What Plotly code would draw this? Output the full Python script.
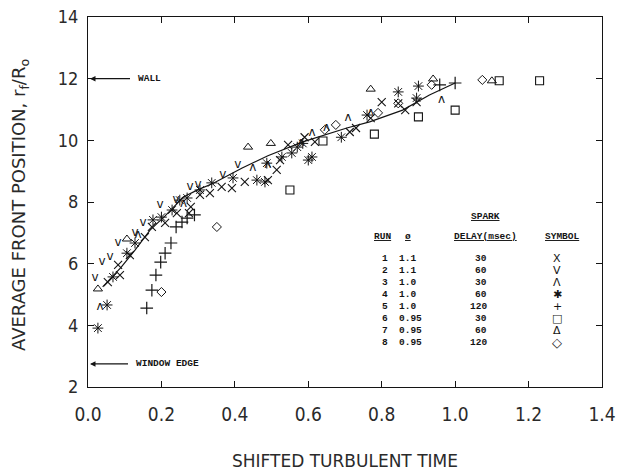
import plotly.graph_objects as go

# ---------------- data ----------------
run1_x = [0.054, 0.082, 0.087, 0.114, 0.155, 0.174, 0.210, 0.242, 0.275, 0.280, 0.305, 0.332, 0.364, 0.392,
          0.427, 0.490, 0.514, 0.523, 0.545, 0.590, 0.618, 0.713, 0.730, 0.770, 0.800, 0.845, 0.864, 0.895]
run1_y = [5.40, 5.96, 5.63, 6.28, 6.86, 7.19, 7.32, 7.64, 7.64, 7.84, 8.23, 8.29, 8.49, 8.45,
          8.65, 8.71, 9.04, 9.36, 9.85, 10.10, 9.95, 10.27, 10.40, 10.72, 11.24, 11.20, 10.98, 11.24]

run2_x = [0.019, 0.038, 0.060, 0.082, 0.128, 0.150, 0.196, 0.240, 0.278, 0.300, 0.367, 0.408]
run2_y = [5.53, 6.05, 6.22, 6.67, 7.00, 7.32, 7.90, 8.05, 8.49, 8.55, 8.87, 9.20]

run3_x = [0.033, 0.136, 0.260, 0.449, 0.490, 0.580, 0.610, 0.650, 0.708, 0.770, 0.963]
run3_y = [4.60, 6.93, 7.95, 9.10, 9.20, 9.90, 10.24, 10.40, 10.72, 10.90, 11.30]

run4_x = [0.027, 0.052, 0.068, 0.106, 0.128, 0.177, 0.200, 0.229, 0.250, 0.270, 0.305, 0.337, 0.395, 0.460,
          0.482, 0.487, 0.528, 0.555, 0.570, 0.585, 0.600, 0.610, 0.690, 0.760, 0.845, 0.895, 0.900]
run4_y = [3.91, 4.66, 5.57, 6.34, 6.67, 7.42, 7.51, 7.74, 8.06, 8.13, 8.39, 8.62, 8.78, 8.71,
          8.65, 9.26, 9.46, 9.59, 9.78, 9.90, 9.36, 9.46, 10.10, 10.82, 11.57, 11.37, 11.76]

run5_x = [0.160, 0.174, 0.185, 0.198, 0.210, 0.226, 0.240, 0.256, 0.270, 0.290, 0.958, 1.000]
run5_y = [4.56, 5.14, 5.63, 6.05, 6.34, 6.67, 7.19, 7.35, 7.48, 7.58, 11.80, 11.86]

run6_x = [0.550, 0.640, 0.780, 0.900, 1.000, 1.120, 1.230]
run6_y = [8.39, 9.98, 10.20, 10.76, 10.98, 11.93, 11.93]

run7_x = [0.027, 0.106, 0.436, 0.498, 0.770, 0.940, 1.100]
run7_y = [5.18, 6.80, 9.78, 9.90, 11.66, 11.99, 11.93]

run8_x = [0.200, 0.351, 0.645, 0.675, 0.790, 0.845, 0.936, 1.074]
run8_y = [5.08, 7.19, 10.34, 10.50, 10.89, 11.20, 11.80, 11.96]

curve_x = [0.040, 0.090, 0.128, 0.169, 0.210, 0.260, 0.300, 0.340, 0.420, 0.490, 0.585, 0.705, 0.767, 0.857, 0.930, 1.000]
curve_y = [5.25, 5.88, 6.44, 7.09, 7.55, 8.16, 8.40, 8.60, 9.10, 9.50, 9.95, 10.40, 10.60, 10.98, 11.47, 11.86]

xtick_vals = [0.0, 0.2, 0.4, 0.6, 0.8, 1.0, 1.2, 1.4]
xtick_text = ["0.0", "0.2", "0.4", "0.6", "0.8", "1.0", "1.2", "1.4"]
ytick_vals = [2, 4, 6, 8, 10, 12, 14]
ytick_text = ["2", "4", "6", "8", "10", "12", "14"]

legend_runs = ["1", "2", "3", "4", "5", "6", "7", "8"]
legend_phi = ["1.1", "1.1", "1.0", "1.0", "1.0", "0.95", "0.95", "0.95"]
legend_delay = ["30", "60", "30", "60", "120", "30", "60", "120"]
legend_symbols = ["X", "V", "Λ", "✱", "+", "□", "Δ", "◇"]

WALL_Y = 12.0
WINDOW_EDGE_Y = 2.75

# ---------------- figure ----------------
INK = "#141414"
W, H = 617, 470
L, R, T, B = 88, 15, 17, 83
PW, PH = W - L - R, H - T - B


def px_x(p):
    return (p - L) / PW


def px_y(p):
    return (H - B - p) / PH


fig = go.Figure()

fig.add_trace(go.Scatter(x=curve_x, y=curve_y, mode="lines",
                         line=dict(color=INK, width=1.2), hoverinfo="skip"))


def marker_trace(xs, ys, symbol, size, lw=1.0):
    return go.Scatter(x=xs, y=ys, mode="markers",
                      marker=dict(symbol=symbol, size=size, color=INK,
                                  line=dict(color=INK, width=lw)))


def text_trace(xs, ys, ch, size):
    return go.Scatter(x=xs, y=ys, mode="text", text=[ch] * len(xs),
                      textposition="middle center",
                      textfont=dict(family="DejaVu Sans", size=size, color=INK))


fig.add_trace(marker_trace(run1_x, run1_y, "x-thin-open", 8, 1.1))
fig.add_trace(text_trace(run2_x, run2_y, "v", 12))
fig.add_trace(text_trace(run3_x, run3_y, "ʌ", 12))
fig.add_trace(marker_trace(run4_x, run4_y, "asterisk-open", 9, 1.0))
fig.add_trace(marker_trace(run5_x, run5_y, "cross-thin-open", 9, 1.2))
fig.add_trace(marker_trace(run6_x, run6_y, "square-open", 8, 1.1))
fig.add_trace(marker_trace(run7_x, run7_y, "triangle-up-open", 8, 1.0))
fig.add_trace(marker_trace(run8_x, run8_y, "diamond-open", 7, 1.0))

axis_common = dict(showline=True, linecolor=INK, linewidth=1.2, mirror="ticks",
                   ticks="inside", ticklen=6, tickwidth=1, tickcolor=INK,
                   showgrid=False, zeroline=False)

tick_family = "DejaVu Sans Condensed, DejaVu Sans"
fig.update_xaxes(range=[0, 1.4], tickmode="array", tickvals=xtick_vals, ticktext=xtick_text,
                 tickfont=dict(family=tick_family, size=19, color="#2a2a2a"),
                 ticklabelstandoff=10, **axis_common)
fig.update_yaxes(range=[2, 14], tickmode="array", tickvals=ytick_vals, ticktext=ytick_text,
                 tickfont=dict(family=tick_family, size=18, color="#2a2a2a"),
                 ticklabelstandoff=5, **axis_common)

ann = []
title_font = dict(family="DejaVu Sans", size=17, color="#2a2a2a")
ann.append(dict(text="SHIFTED TURBULENT TIME", xref="paper", yref="paper",
                x=px_x(345), y=px_y(461), xanchor="center", yanchor="middle",
                showarrow=False, font=title_font))
ann.append(dict(text="AVERAGE FRONT POSITION, r<sub>f</sub>/R<sub>o</sub>", xref="paper", yref="paper",
                x=px_x(20), y=px_y(205), xanchor="center", yanchor="middle", textangle=-90,
                showarrow=False, font=dict(family="DejaVu Sans", size=18, color="#2a2a2a")))

small = dict(family="Liberation Mono", size=9.5, color=INK, weight="bold")

# reference arrows with their labels
for yv, label, ax in [(WALL_Y, "WALL", 61), (WINDOW_EDGE_Y, "WINDOW EDGE", 79)]:
    ann.append(dict(x=0.0, y=yv, xref="x", yref="y", ax=ax, ay=0,
                    text=label, showarrow=True, arrowhead=2, arrowsize=1, arrowwidth=1.1,
                    arrowcolor=INK, standoff=2, borderpad=7, font=small))

# legend table
ann.append(dict(text="<u>SPARK</u>", xref="paper", yref="paper", x=px_x(485), y=px_y(216),
                xanchor="center", yanchor="middle", showarrow=False, font=small))
for xp, t in [(382, "RUN"), (408, "ø"), (485, "DELAY(msec)"), (562, "SYMBOL")]:
    ann.append(dict(text="<u>" + t + "</u>", xref="paper", yref="paper", x=px_x(xp), y=px_y(237),
                    xanchor="center", yanchor="middle", showarrow=False, font=small))

for i in range(len(legend_runs)):
    yp = px_y(258 + i * 12.1)
    ann.append(dict(text=legend_runs[i], xref="paper", yref="paper", x=px_x(385), y=yp,
                    xanchor="center", yanchor="middle", showarrow=False, font=small))
    ann.append(dict(text=legend_phi[i], xref="paper", yref="paper", x=px_x(397), y=yp,
                    xanchor="left", yanchor="middle", showarrow=False, font=small))
    ann.append(dict(text=legend_delay[i], xref="paper", yref="paper", x=px_x(489), y=yp,
                    xanchor="right", yanchor="middle", showarrow=False, font=small))
    sym_size = 13 if legend_symbols[i] == "◇" else 11
    ann.append(dict(text=legend_symbols[i], xref="paper", yref="paper", x=px_x(557), y=yp,
                    xanchor="center", yanchor="middle", showarrow=False,
                    font=dict(family="DejaVu Sans", size=sym_size, color=INK)))

fig.update_layout(width=W, height=H, margin=dict(l=L, r=R, t=T, b=B, autoexpand=False),
                  paper_bgcolor="white", plot_bgcolor="white", showlegend=False,
                  annotations=ann)

fig.write_html("out.html", config={"displayModeBar": False},
               post_script="document.body.style.margin='0';document.body.style.padding='0';")
